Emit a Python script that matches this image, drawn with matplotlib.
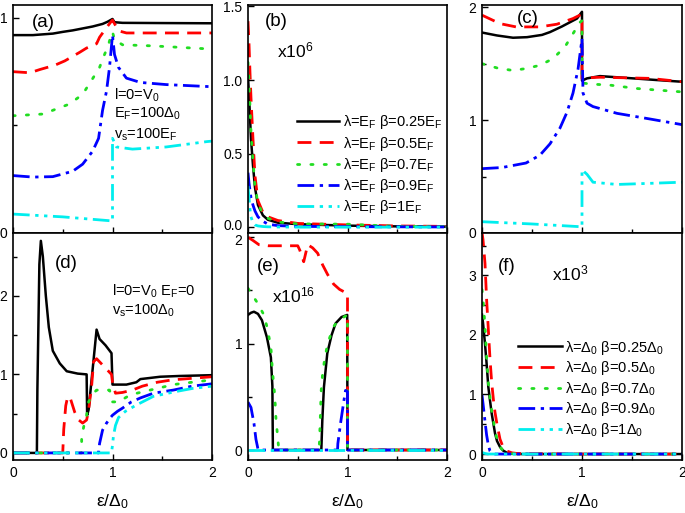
import matplotlib
matplotlib.use("Agg")
import matplotlib.pyplot as plt
import matplotlib.transforms as mtransforms
from matplotlib.ticker import FixedLocator

plt.rcParams['font.family'] = ['Liberation Sans', 'DejaVu Sans']
plt.rcParams['mathtext.fontset'] = 'custom'
plt.rcParams['mathtext.rm'] = 'Liberation Sans'
plt.rcParams['mathtext.it'] = 'Liberation Sans:italic'
plt.rcParams['mathtext.bf'] = 'Liberation Sans:bold'

# ---------------- data ----------------
# panel (a)
a_black_x = [0, 0.2, 0.4, 0.5, 0.6, 0.8, 0.9, 0.95, 1.0, 1.02, 1.1, 1.5, 2.0]
a_black_y = [0.92, 0.92, 0.927, 0.935, 0.942, 0.96, 0.972, 0.982, 0.995, 0.98, 0.977, 0.976, 0.975]
a_red_x = [0, 0.17, 0.27, 0.42, 0.52, 0.67, 0.74, 0.84, 0.87, 0.94, 0.99, 1.0, 1.06, 1.14, 1.5, 2.0]
a_red_y = [0.75, 0.745, 0.76, 0.78, 0.80, 0.84, 0.86, 0.88, 0.91, 0.955, 0.985, 0.99, 0.94, 0.93, 0.93, 0.93]
a_green_x = [0, 0.3, 0.57, 0.7, 0.79, 0.87, 0.92, 0.96, 0.99, 1.0, 1.02, 1.1, 1.4, 2.0]
a_green_y = [0.545, 0.553, 0.60, 0.645, 0.71, 0.77, 0.83, 0.875, 0.93, 0.935, 0.9, 0.875, 0.87, 0.855]
a_blue_x = [0, 0.2, 0.4, 0.6, 0.7, 0.8, 0.86, 0.9, 0.94, 0.97, 0.99, 1.0, 1.02, 1.06, 1.14, 1.28, 1.54, 2.0]
a_blue_y = [0.267, 0.26, 0.262, 0.287, 0.32, 0.38, 0.44, 0.57, 0.66, 0.77, 0.87, 0.92, 0.83, 0.77, 0.72, 0.70, 0.69, 0.68]
a_cyan_x = [0, 0.5, 1.0, 1.0, 1.04, 1.2, 1.54, 1.95, 2.0]
a_cyan_y = [0.088, 0.075, 0.056, 0.44, 0.40, 0.39, 0.40, 0.425, 0.427]

# panel (b)  (x10^6)
b_x = [0, 0.01, 0.02, 0.03, 0.05, 0.07, 0.1, 0.15, 0.2, 0.3, 0.5, 1.0, 1.5, 2.0]
b_black = [1.02, 0.9, 0.75, 0.6, 0.42, 0.27, 0.15, 0.08, 0.05, 0.03, 0.02, 0.01, 0.005, 0.003]
b_red = [1.4, 1.25, 1.05, 0.88, 0.6, 0.35, 0.18, 0.1, 0.07, 0.045, 0.025, 0.015, 0.008, 0.005]
b_green = [1.12, 1.0, 0.82, 0.65, 0.45, 0.28, 0.16, 0.09, 0.06, 0.035, 0.022, 0.02, 0.005, 0.003]
b_blue = [0.37, 0.3, 0.25, 0.2, 0.15, 0.11, 0.07, 0.04, 0.02, 0.01, 0.005, 0.003, 0.002, 0.001]
b_cyan = [0.28, 0.2, 0.12, 0.07, 0.03, 0.015, 0.008, 0.004, 0.002, 0.001, 0, 0, 0, 0]

# panel (c)
c_black_x = [0, 0.15, 0.31, 0.45, 0.6, 0.68, 0.8, 0.95, 1.0, 1.0, 1.05, 1.18, 1.51, 1.75, 2.0]
c_black_y = [1.776, 1.75, 1.73, 1.735, 1.755, 1.78, 1.83, 1.90, 1.96, 1.35, 1.37, 1.39, 1.37, 1.355, 1.34]
c_red_x = [0, 0.18, 0.34, 0.58, 0.75, 0.91, 1.0, 1.0, 1.05, 1.18, 1.68, 2.0]
c_red_y = [1.93, 1.855, 1.826, 1.826, 1.85, 1.90, 1.94, 1.37, 1.375, 1.38, 1.37, 1.34]
c_green_x = [0, 0.16, 0.31, 0.44, 0.58, 0.71, 0.83, 0.93, 0.96, 1.0, 1.0, 1.08, 1.28, 1.55, 2.0]
c_green_y = [1.50, 1.46, 1.44, 1.457, 1.486, 1.545, 1.65, 1.795, 1.855, 1.88, 1.33, 1.32, 1.31, 1.28, 1.25]
c_blue_x = [0, 0.2, 0.44, 0.58, 0.68, 0.78, 0.85, 0.91, 0.96, 1.0, 1.01, 1.05, 1.11, 1.35, 1.68, 2.0]
c_blue_y = [0.57, 0.58, 0.62, 0.69, 0.79, 0.93, 1.07, 1.24, 1.45, 1.72, 1.24, 1.15, 1.12, 1.06, 1.01, 0.96]
c_cyan_x = [0, 0.5, 1.0, 1.0, 1.05, 1.11, 1.35, 1.68, 2.0]
c_cyan_y = [0.10, 0.08, 0.055, 0.56, 0.52, 0.45, 0.43, 0.44, 0.45]

# panel (d)
d_black_x = [0, 0.24, 0.245, 0.265, 0.28, 0.30, 0.33, 0.36, 0.40, 0.47, 0.54, 0.65, 0.74, 0.745, 0.76,
             0.84, 0.87, 0.93, 0.99, 1.0, 1.14, 1.24, 1.28, 1.48, 1.68, 2.0]
d_black_y = [0, 0, 0.8, 2.4, 2.7, 2.5, 2.0, 1.6, 1.3, 1.14, 1.04, 1.01, 1.0, 0.48, 0.55,
             1.57, 1.45, 1.37, 1.27, 0.87, 0.87, 0.90, 0.94, 0.97, 0.98, 0.99]
d_red_x = [0, 0.5, 0.51, 0.53, 0.55, 0.58, 0.62, 0.66, 0.7, 0.74, 0.76, 0.79, 0.81, 0.84, 0.9, 0.96,
           0.99, 1.0, 1.03, 1.1, 1.2, 1.3, 1.45, 1.6, 1.8, 2.0]
d_red_y = [0, 0, 0.3, 0.6, 0.72, 0.68, 0.52, 0.42, 0.38, 0.42, 0.55, 0.85, 1.16, 1.2, 1.12, 1.04,
           1.0, 0.9, 0.76, 0.77, 0.8, 0.85, 0.9, 0.93, 0.95, 0.97]
d_green_x = [0, 0.69, 0.69, 0.71, 0.74, 0.76, 0.8, 0.84, 0.9, 0.97, 0.99, 1.0, 1.06, 1.18, 1.31, 1.48, 1.61, 1.8, 2.0]
d_green_y = [0, 0, 0.19, 0.33, 0.48, 0.65, 0.75, 0.8, 0.8, 0.8, 0.72, 0.65, 0.65, 0.74, 0.78, 0.83, 0.87, 0.9, 0.93]
d_blue_x = [0, 0.86, 0.87, 0.9, 0.94, 0.98, 1.0, 1.05, 1.1, 1.19, 1.28, 1.41, 1.61, 1.8, 2.0]
d_blue_y = [0, 0, 0.12, 0.29, 0.38, 0.45, 0.48, 0.53, 0.57, 0.65, 0.70, 0.76, 0.8, 0.85, 0.88]
d_cyan_x = [0, 0.99, 1.0, 1.01, 1.03, 1.06, 1.13, 1.24, 1.41, 1.63, 1.8, 2.0]
d_cyan_y = [0, 0, 0.1, 0.22, 0.35, 0.45, 0.53, 0.61, 0.72, 0.78, 0.82, 0.85]

# panel (e)  (x10^16)
e_black_x = [0, 0.03, 0.06, 0.1, 0.14, 0.19, 0.23, 0.245, 0.25, 0.737, 0.747, 0.763, 0.797, 0.84, 0.88, 0.94, 0.997, 1.0, 2.0]
e_black_y = [1.27, 1.29, 1.30, 1.28, 1.22, 1.06, 0.87, 0.6, 0, 0, 0.28, 0.59, 0.91, 1.08, 1.19, 1.25, 1.27, 0, 0]
e_red_x = [0, 0.05, 0.11, 0.2, 0.3, 0.4, 0.5, 0.52, 0.56, 0.6, 0.65, 0.7, 0.75, 0.8, 0.86, 0.92, 0.98, 1.0, 1.0, 2.0]
e_red_y = [2.0, 1.97, 1.93, 1.92, 1.92, 1.92, 1.92, 1.88, 1.77, 1.93, 1.9, 1.85, 1.74, 1.65, 1.56, 1.51, 1.48, 1.47, 0, 0]
e_green_x = [0, 0.09, 0.16, 0.19, 0.23, 0.245, 0.27, 0.28, 0.3, 0.31, 0.715, 0.725, 0.735, 0.75, 0.77, 0.8, 0.86, 0.91, 1.0, 1.0, 2.0]
e_green_y = [1.52, 1.39, 1.27, 1.16, 0.97, 0.75, 0.5, 0.31, 0.1, 0, 0, 0.25, 0.55, 0.72, 0.85, 1.0, 1.16, 1.22, 1.27, 0, 0]
e_blue_x = [0, 0.03, 0.06, 0.08, 0.1, 0.11, 0.9, 0.903, 0.93, 0.96, 0.98, 1.0, 1.0, 2.0]
e_blue_y = [0.45, 0.4, 0.25, 0.1, 0.01, 0, 0, 0.06, 0.25, 0.44, 0.56, 0.55, 0, 0]
e_cyan_x = [0, 1.0, 2.0]
e_cyan_y = [0, 0, 0]

# panel (f)  (x10^3)
f_x = [0, 0.01, 0.03, 0.046, 0.063, 0.08, 0.097, 0.115, 0.13, 0.15, 0.18, 0.21, 0.25, 0.3, 0.35, 0.5, 1.0, 2.0]
f_black = [2.34, 2.2, 1.85, 1.52, 1.13, 0.9, 0.68, 0.5, 0.35, 0.22, 0.12, 0.06, 0.02, 0.005, 0, 0, 0, 0]
f_red = [3.72, 3.6, 3.2, 2.6, 2.1, 1.6, 1.2, 0.9, 0.7, 0.5, 0.25, 0.12, 0.05, 0.02, 0.01, 0.005, 0, 0]
f_green = [2.76, 2.6, 2.15, 1.62, 1.2, 0.95, 0.72, 0.55, 0.4, 0.25, 0.12, 0.06, 0.02, 0.005, 0, 0, 0, 0]
f_blue = [0.99, 0.85, 0.55, 0.32, 0.15, 0.05, 0.02, 0.005, 0, 0, 0, 0, 0, 0, 0, 0, 0, 0]
f_cyan = [0.03, 0.02, 0.01, 0.005, 0, 0, 0, 0, 0, 0, 0, 0, 0, 0, 0, 0, 0, 0]

labels_b = ['λ=E$_\\mathrm{F}$ β=0.25E$_\\mathrm{F}$',
            'λ=E$_\\mathrm{F}$ β=0.5E$_\\mathrm{F}$',
            'λ=E$_\\mathrm{F}$ β=0.7E$_\\mathrm{F}$',
            'λ=E$_\\mathrm{F}$ β=0.9E$_\\mathrm{F}$',
            'λ=E$_\\mathrm{F}$ β=1E$_\\mathrm{F}$']
labels_f = ['λ=Δ$_\\mathrm{0}$ β=0.25Δ$_\\mathrm{0}$',
            'λ=Δ$_\\mathrm{0}$ β=0.5Δ$_\\mathrm{0}$',
            'λ=Δ$_\\mathrm{0}$ β=0.7Δ$_\\mathrm{0}$',
            'λ=Δ$_\\mathrm{0}$ β=0.9Δ$_\\mathrm{0}$',
            'λ=Δ$_\\mathrm{0}$ β=1Δ$_\\mathrm{0}$']

# ---------------- styles ----------------
STY = [dict(color='black', lw=1.8, ls='-'),
       dict(color='#ff0000', lw=2.0, ls=(0, (5, 3))),
       dict(color='#22dd22', lw=2.0, ls=(0, (0.8, 4)), dash_capstyle='round'),
       dict(color='#0000ff', lw=2.0, ls=(0, (6, 2, 1.2, 2))),
       dict(color='#00eeee', lw=2.0, ls=(0, (6, 2, 1.2, 2, 1.2, 2)))]

fig = plt.figure(figsize=(6.85, 5.13), dpi=100)
W, H = 685.0, 513.0
cols = [(13, 212), (248, 447), (482, 682)]
rows = [(5, 233), (233, 460)]

def mkax(c, r):
    x0, x1 = cols[c]
    y0, y1 = rows[r]
    return fig.add_axes([x0 / W, 1 - y1 / H, (x1 - x0) / W, (y1 - y0) / H])

axs = [[mkax(c, r) for c in range(3)] for r in range(2)]

def plot5(ax, xs, ys, labels=None):
    for i in range(5):
        kw = dict(STY[i])
        ax.plot(xs[i], ys[i], label=(labels[i] if labels else None), **kw)

ax = axs[0][0]
plot5(ax, [a_black_x, a_red_x, a_green_x, a_blue_x, a_cyan_x],
      [a_black_y, a_red_y, a_green_y, a_blue_y, a_cyan_y])
ax.set_ylim(0, 1.06)
ax.yaxis.set_major_locator(FixedLocator([0, 1]))
ax.yaxis.set_minor_locator(FixedLocator([0.5]))

ax = axs[0][1]
plot5(ax, [b_x] * 5, [b_black, b_red, b_green, b_blue, b_cyan], labels_b)
ax.set_ylim(-0.04, 1.51)
ax.yaxis.set_major_locator(FixedLocator([0, 0.5, 1.0, 1.5]))
ax.set_yticklabels(['0.0', '0.5', '1.0', '1.5'])

ax = axs[0][2]
plot5(ax, [c_black_x, c_red_x, c_green_x, c_blue_x, c_cyan_x],
      [c_black_y, c_red_y, c_green_y, c_blue_y, c_cyan_y])
ax.set_ylim(0, 2.02)
ax.yaxis.set_major_locator(FixedLocator([0, 1, 2]))
ax.yaxis.set_minor_locator(FixedLocator([0.5, 1.5]))

ax = axs[1][0]
plot5(ax, [d_black_x, d_red_x, d_green_x, d_blue_x, d_cyan_x],
      [d_black_y, d_red_y, d_green_y, d_blue_y, d_cyan_y])
ax.set_ylim(-0.09, 2.8)
ax.yaxis.set_major_locator(FixedLocator([0, 1, 2]))
ax.yaxis.set_minor_locator(FixedLocator([0.5, 1.5, 2.5]))

ax = axs[1][1]
plot5(ax, [e_black_x, e_red_x, e_green_x, e_blue_x, e_cyan_x],
      [e_black_y, e_red_y, e_green_y, e_blue_y, e_cyan_y])
ax.set_ylim(-0.094, 2.04)
ax.yaxis.set_major_locator(FixedLocator([0, 1, 2]))
ax.yaxis.set_minor_locator(FixedLocator([0.5, 1.5]))

ax = axs[1][2]
plot5(ax, [f_x] * 5, [f_black, f_red, f_green, f_blue, f_cyan], labels_f)
ax.set_ylim(-0.1, 3.71)
ax.yaxis.set_major_locator(FixedLocator([0, 1, 2, 3]))
ax.yaxis.set_minor_locator(FixedLocator([0.5, 1.5, 2.5, 3.5]))

for r in range(2):
    for c in range(3):
        ax = axs[r][c]
        ax.set_xlim(0, 2)
        ax.xaxis.set_major_locator(FixedLocator([0, 1, 2]))
        ax.xaxis.set_minor_locator(FixedLocator([0.5, 1.5]))
        ax.tick_params(which='both', direction='in', labelsize=10, width=1.0,
                       top=False, right=False, pad=4)
        ax.tick_params(which='major', length=4)
        ax.tick_params(which='minor', length=3)
        for s in ax.spines.values():
            s.set_linewidth(1.2)
        if r == 0:
            ax.tick_params(labelbottom=False)
        else:
            ax.set_xlabel('ε/Δ$_\\mathrm{0}$', fontsize=12.5, labelpad=9)

# nudge the two tick labels that meet at the row border apart by a few pixels
fig.canvas.draw()
up = mtransforms.ScaledTranslation(0, 2.5 / 100, fig.dpi_scale_trans)
down = mtransforms.ScaledTranslation(0, -2.5 / 100, fig.dpi_scale_trans)
lb = axs[0][1].yaxis.get_major_ticks()[0].label1
lb.set_transform(lb.get_transform() + up)
le = axs[1][1].yaxis.get_major_ticks()[2].label1
le.set_transform(le.get_transform() + down)

# legends
axs[0][1].legend(loc='upper left', bbox_to_anchor=(0.245, 0.525), frameon=False,
                 fontsize=10.5, handlelength=2.9, handletextpad=0.3, labelspacing=0.22,
                 borderaxespad=0, borderpad=0)
axs[1][2].legend(loc='upper left', bbox_to_anchor=(0.18, 0.535), frameon=False,
                 fontsize=10.5, handlelength=3.0, handletextpad=0.2, labelspacing=0.18,
                 borderaxespad=0, borderpad=0)

# annotations
def T(ax, x, y, s, fs=10.5, va='center'):
    ax.text(x, y, s, transform=ax.transAxes, fontsize=fs, va=va, ha='left')

T(axs[0][0], 0.095, 0.96, '(a)', fs=13.5, va='top')
T(axs[0][0], 0.51, 0.605, 'l=0=V$_\\mathrm{0}$')
T(axs[0][0], 0.51, 0.522, 'E$_\\mathrm{F}$=100Δ$_\\mathrm{0}$')
T(axs[0][0], 0.51, 0.43, 'v$_\\mathrm{s}$=100E$_\\mathrm{F}$')
T(axs[0][1], 0.085, 0.965, '(b)', fs=13.5, va='top')
T(axs[0][1], 0.145, 0.80, 'x10$^\\mathrm{6}$', fs=12.5)
T(axs[0][2], 0.175, 0.98, '(c)', fs=13.5, va='top')
T(axs[1][0], 0.21, 0.905, '(d)', fs=13.5, va='top')
T(axs[1][0], 0.495, 0.744, 'l=0=V$_\\mathrm{0}$ E$_\\mathrm{F}$=0')
T(axs[1][0], 0.495, 0.656, 'v$_\\mathrm{s}$=100Δ$_\\mathrm{0}$')
T(axs[1][1], 0.045, 0.89, '(e)', fs=13.5, va='top')
T(axs[1][1], 0.12, 0.727, 'x10$^\\mathrm{16}$', fs=12.5)
T(axs[1][2], 0.08, 0.89, '(f)', fs=13.5, va='top')
T(axs[1][2], 0.35, 0.82, 'x10$^\\mathrm{3}$', fs=12.5)

fig.savefig('out.png', dpi=100)
